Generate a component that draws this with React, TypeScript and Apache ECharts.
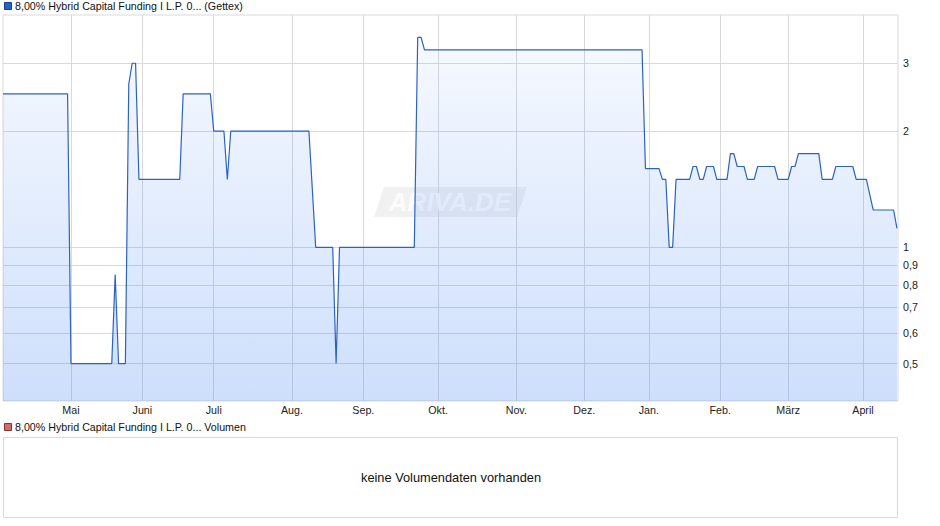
import React, { useEffect, useRef } from "react";
import * as echarts from "echarts";

// Trading-day index (0 = 1 Apr 2025) and price at each change point
const dayIdx = [
  0, 19, 20, 32, 33, 34, 36, 37, 38, 39, 40, 52, 53, 61, 62, 65, 66, 67, 90, 92,
  97, 98, 99, 121, 122, 123, 124, 188, 189, 193, 194, 195, 196, 197, 198, 202, 203,
  204, 205, 206, 207, 209, 210, 213, 214, 215, 216, 218, 219, 221, 222, 227, 228,
  231, 232, 233, 234, 240, 241, 244, 245, 250, 251, 254, 256, 262, 263,
];
const prices = [
  2.5, 2.5, 0.5, 0.5, 0.85, 0.5, 0.5, 2.65, 3.0, 3.0, 1.5, 1.5, 2.5, 2.5, 2.0, 2.0, 1.5, 2.0, 2.0, 1.0,
  1.0, 0.5, 1.0, 1.0, 3.5, 3.5, 3.25, 3.25, 1.6, 1.6, 1.5, 1.5, 1.0, 1.0, 1.5, 1.5, 1.62,
  1.62, 1.5, 1.5, 1.62, 1.62, 1.5, 1.5, 1.75, 1.75, 1.62, 1.62, 1.5, 1.5, 1.62, 1.62, 1.5,
  1.5, 1.62, 1.62, 1.75, 1.75, 1.5, 1.5, 1.62, 1.62, 1.5, 1.5, 1.25, 1.25, 1.12,
];

// First trading day of each month (index) and its label
const monthIdx = [20, 41, 62, 85, 106, 128, 151, 171, 190, 211, 231, 253];
const monthLabels = ["Mai", "Juni", "Juli", "Aug.", "Sep.", "Okt.", "Nov.", "Dez.", "Jan.", "Feb.", "März", "April"];

const yTicks = [0.5, 0.6, 0.7, 0.8, 0.9, 1, 2, 3];

const FONT = "'Liberation Sans', Arial, sans-serif";

export default function App() {
  const ref = useRef<HTMLDivElement>(null);

  useEffect(() => {
    if (!ref.current) return;
    const chart = echarts.init(ref.current, undefined, { renderer: "svg" });
    const data = dayIdx.map((d, i) => [d, prices[i]]);
    chart.setOption({
      animation: false,
      textStyle: { fontFamily: FONT },
      grid: {
        left: 3,
        right: 42,
        top: 15,
        bottom: 125,
        show: true,
        borderColor: "#d9d9d9",
        borderWidth: 1,
        backgroundColor: "transparent",
      },
      xAxis: {
        type: "value",
        min: 0,
        max: 263.3,
        axisLine: { show: false },
        axisTick: { show: false, customValues: monthIdx },
        splitLine: { show: true, lineStyle: { color: "#d9d9d9", width: 1 } },
        axisLabel: {
          customValues: monthIdx,
          formatter: (v: number) => {
            const k = monthIdx.indexOf(Math.round(v));
            return k >= 0 ? monthLabels[k] : "";
          },
          color: "#222",
          fontSize: 10.7,
          fontFamily: FONT,
          margin: 3,
        },
      },
      yAxis: {
        type: "log",
        logBase: 10,
        min: 0.4,
        max: 4,
        position: "right",
        axisLine: { show: false },
        axisTick: { show: false, customValues: yTicks },
        splitLine: { show: true, lineStyle: { color: "#d9d9d9", width: 1 } },
        axisLabel: {
          customValues: yTicks,
          formatter: (v: number) => String(Math.round(v * 10) / 10).replace(".", ","),
          color: "#222",
          fontSize: 10.7,
          fontFamily: FONT,
          margin: 5,
        },
      },
      series: [
        {
          type: "line",
          data,
          symbol: "none",
          lineStyle: { color: "#2a62c8", width: 1.2 },
          areaStyle: {
            origin: "start",
            color: new echarts.graphic.LinearGradient(
              0, 15, 0, 401,
              [
                { offset: 0, color: "rgba(70,135,245,0.05)" },
                { offset: 1, color: "rgba(70,135,245,0.38)" },
              ],
              true
            ),
          },
          z: 2,
        },
      ],
      graphic: [
        // watermark
        {
          type: "polygon",
          z: 1,
          shape: { points: [[384, 187], [527, 187], [517, 217], [374, 217]] },
          style: { fill: "rgba(215,215,215,0.35)" },
        },
        {
          type: "text",
          z: 1,
          x: 450,
          y: 202,
          style: {
            text: "ARIVA.DE",
            fill: "rgba(255,255,255,0.85)",
            font: "italic bold 26px " + FONT,
            align: "center",
            verticalAlign: "middle",
          },
        },
        // top legend
        {
          type: "rect",
          shape: { x: 4.5, y: 2.5, width: 7, height: 7 },
          style: { fill: "#2563c4", stroke: "#1a3f80", lineWidth: 1 },
        },
        {
          type: "text",
          x: 15,
          y: 6,
          style: {
            text: "8,00% Hybrid Capital Funding I L.P. 0... (Gettex)",
            fill: "#111",
            font: "10.7px " + FONT,
            verticalAlign: "middle",
          },
        },
        // volume legend
        {
          type: "rect",
          shape: { x: 4.5, y: 423.5, width: 7, height: 7 },
          style: { fill: "#d46a6a", stroke: "#8a2f2f", lineWidth: 1 },
        },
        {
          type: "text",
          x: 15,
          y: 427,
          style: {
            text: "8,00% Hybrid Capital Funding I L.P. 0... Volumen",
            fill: "#111",
            font: "10.7px " + FONT,
            verticalAlign: "middle",
          },
        },
        // volume box
        {
          type: "rect",
          shape: { x: 3.5, y: 437.5, width: 894, height: 80 },
          style: { fill: "none", stroke: "#d9d9d9", lineWidth: 1 },
        },
        {
          type: "text",
          x: 451,
          y: 477,
          style: {
            text: "keine Volumendaten vorhanden",
            fill: "#111",
            font: "12.8px " + FONT,
            align: "center",
            verticalAlign: "middle",
          },
        },
      ],
    });
    return () => chart.dispose();
  }, []);

  return <div ref={ref} style={{ width: 940, height: 526, position: "absolute", left: 0, top: 0 }} />;
}
